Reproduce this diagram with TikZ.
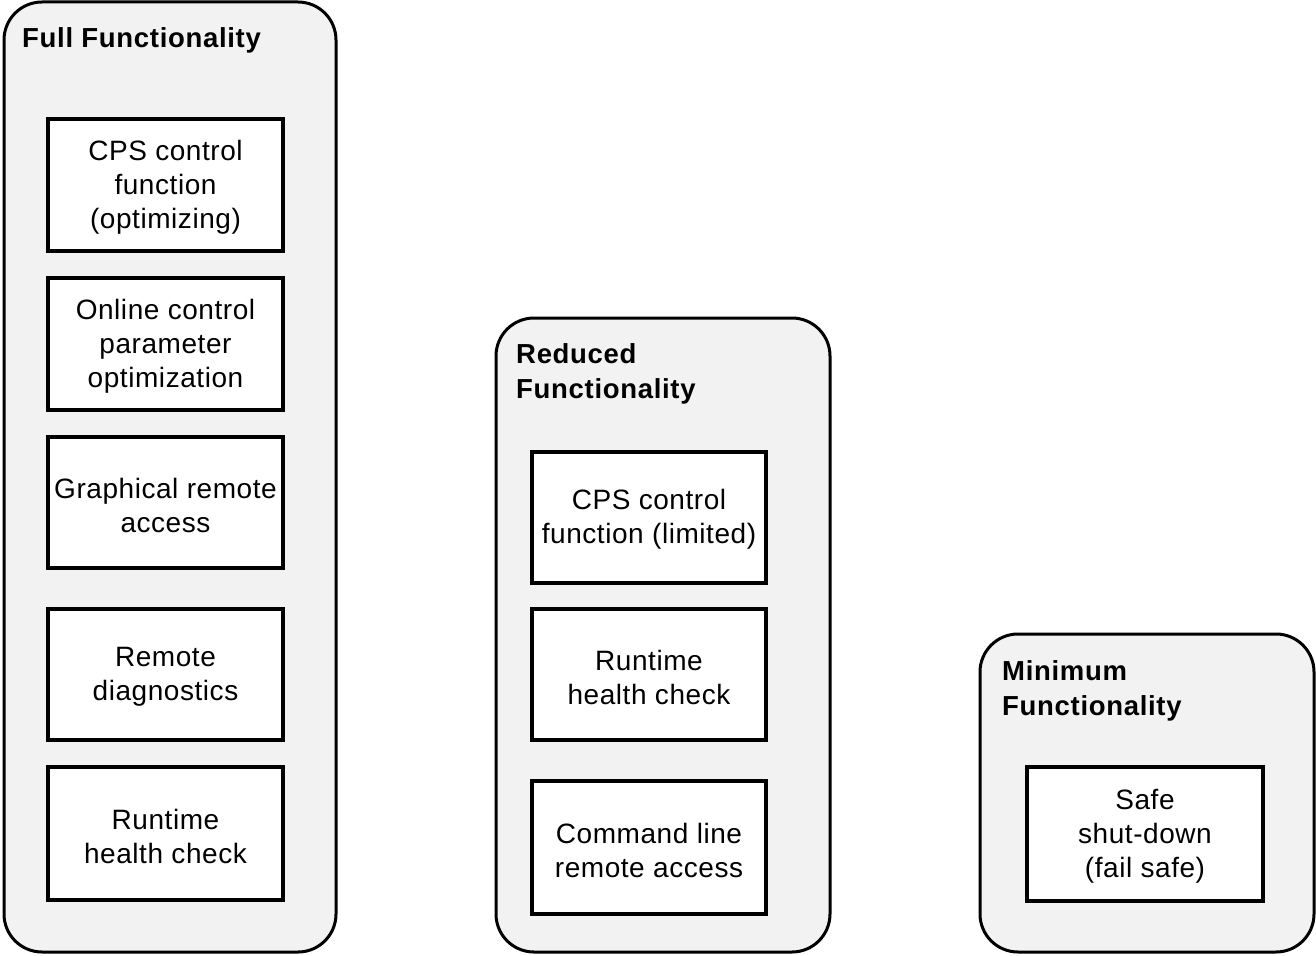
\documentclass[tikz,border=0pt]{standalone}
\usepackage{fontspec}
\setmainfont{Liberation Sans}
\newfontfamily\titlefont[LetterSpace=2.5]{Liberation Sans}
\newfontfamily\bodyfont[LetterSpace=2]{Liberation Sans}
\definecolor{panelgray}{HTML}{F2F2F2}
\begin{document}
\begin{tikzpicture}[x=1pt,y=-1pt,
  panel/.style={draw=black,line width=3pt,fill=panelgray,rounded corners=38pt},
  fnbox/.style={draw=black,line width=4.5pt,fill=white},
  paneltitle/.style={anchor=north west,inner sep=0pt,align=left,
    font=\titlefont\fontsize{27.5}{35}\selectfont\bfseries},
  fntext/.style={inner sep=0pt,align=center,
    font=\bodyfont\fontsize{28}{34}\selectfont}]
\useasboundingbox (0,0) rectangle (1316,955);

% --- Full functionality ---
\draw[panel] (4,2) rectangle (336,952);
\node[paneltitle] (tfull) at (22,27) {Full Functionality};
\draw[fnbox] (48,119) rectangle (283,251);
\node[fntext] (f1) at (165.5,187) {CPS control\\function\\(optimizing)};
\draw[fnbox] (48,278) rectangle (283,410);
\node[fntext] (f2) at (165.5,346) {Online control\\parameter\\optimization};
\draw[fnbox] (48,437) rectangle (283,568);
\node[fntext] (f3) at (165.5,505) {Graphical remote\\access};
\draw[fnbox] (48,609) rectangle (283,740);
\node[fntext] (f4) at (165.5,677) {Remote\\diagnostics};
\draw[fnbox] (48,767) rectangle (283,900);
\node[fntext] (f5) at (165.5,836) {Runtime\\health check};

% --- Reduced functionality ---
\draw[panel] (496,318) rectangle (830,952);
\node[paneltitle] (tred) at (516,343) {Reduced\\Functionality};
\draw[fnbox] (532,452) rectangle (766,583);
\node[fntext] (r1) at (649,519) {CPS control\\function (limited)};
\draw[fnbox] (532,609) rectangle (766,740);
\node[fntext] (r2) at (649,677) {Runtime\\health check};
\draw[fnbox] (532,781) rectangle (766,914);
\node[fntext] (r3) at (649,850) {Command line\\remote access};

% --- Minimum functionality ---
\draw[panel] (980,634) rectangle (1314,952);
\node[paneltitle] (tmin) at (1002,660) {Minimum\\Functionality};
\draw[fnbox] (1027,767) rectangle (1263,901);
\node[fntext] (m1) at (1145,836) {Safe\\shut-down\\(fail safe)};
\end{tikzpicture}
\end{document}
